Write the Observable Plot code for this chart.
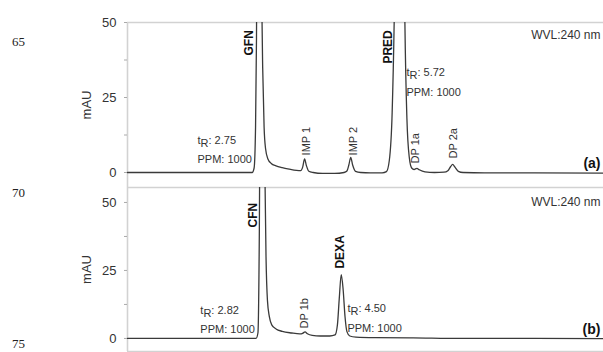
<!DOCTYPE html>
<html>
<head>
<meta charset="utf-8">
<script src="https://cdn.jsdelivr.net/npm/d3@7"></script>
<script src="https://cdn.jsdelivr.net/npm/@observablehq/plot@0.6"></script>
<style>
  html, body { margin: 0; padding: 0; background: #fff; }
  #wrap { position: relative; width: 603px; height: 352px; overflow: hidden; background: #fff; }
  #wrap svg { position: absolute; left: 0; }
  .ln { position: absolute; left: 12px; font-family: "Liberation Serif", "Times New Roman", serif; font-size: 13px; color: #222; line-height: 1; }
</style>
</head>
<body>
<div id="wrap">
  <span class="ln" style="top:35px">65</span>
  <span class="ln" style="top:186px">70</span>
  <span class="ln" style="top:337px">75</span>
</div>
<script>
// ---------- data ----------
const yTicks = [0, 25, 50];
const yMinorTicks = [12.5, 37.5];

// Panel (a): retention time (min) and absorbance (mAU)
const timeA = [0, 1.0, 2.0, 2.62, 2.66, 2.69, 2.71, 2.73, 2.75, 2.78, 2.81, 2.84, 2.87, 2.90, 2.95, 3.02, 3.12, 3.25, 3.40, 3.55, 3.64, 3.68, 3.72, 3.76, 3.81, 3.90, 4.10, 4.35, 4.55, 4.61, 4.65, 4.69, 4.73, 4.79, 4.90, 5.10, 5.35, 5.44, 5.50, 5.56, 5.62, 5.67, 5.72, 5.77, 5.82, 5.87, 5.92, 5.97, 6.02, 6.08, 6.13, 6.25, 6.45, 6.65, 6.73, 6.79, 6.83, 6.88, 6.95, 7.05, 7.5, 8.5, 10];
const signalA = [0, 0, 0, 0, 1.5, 15, 45, 120, 220, 140, 70, 35, 15, 8, 4.5, 3, 2.2, 1.6, 1.1, 0.7, 0.6, 1.8, 4.5, 2.2, 0.4, 0, -0.3, -0.3, 0, 0.5, 2.5, 5.0, 2.5, 0.4, 0, -0.1, -0.1, 0.3, 4, 20, 70, 160, 240, 170, 60, 18, 5, 1.5, 1.0, 1.4, 0.9, 0.2, 0, 0.1, 0.6, 2.0, 2.7, 1.8, 0.4, 0, -0.1, -0.1, -0.2];

// Panel (b)
const timeB = [0, 2.0, 2.70, 2.74, 2.77, 2.80, 2.82, 2.85, 2.88, 2.91, 2.94, 2.98, 3.03, 3.12, 3.25, 3.45, 3.62, 3.68, 3.73, 3.78, 3.88, 4.05, 4.25, 4.36, 4.41, 4.45, 4.49, 4.53, 4.57, 4.61, 4.67, 4.80, 5.2, 6.0, 7.0, 8.5, 10];
const signalB = [0, 0, 0, 2, 40, 140, 230, 150, 70, 30, 14, 8, 5, 3.5, 2.6, 2.0, 1.7, 1.9, 2.4, 1.7, 1.1, 0.9, 0.9, 1.3, 5, 15, 23.5, 18, 8, 2.5, 0.9, 0.5, 0.3, 0.2, 0, 0, -0.1];

// Peak labels (a)
const mainNamesA = ["GFN", "PRED"];
const mainTimeA = [2.56, 5.48];
const mainLevelA = [39, 36.3];
const minorNamesA = ["IMP 1", "IMP 2", "DP 1a", "DP 2a"];
const minorTimeA = [3.76, 4.75, 6.05, 6.85];
const minorLevelA = [5.7, 5.7, 3.0, 4.7];
const infoTextA = ["tR: 2.75", "PPM: 1000", "tR: 5.72", "PPM: 1000"];
const infoTimeA = [1.47, 1.47, 5.86, 5.86];
const infoLevelA = [10.7, 4.5, 33.3, 26.7];

// Peak labels (b)
const mainNamesB = ["CFN", "DEXA"];
const mainTimeB = [2.65, 4.47];
const mainLevelB = [40.8, 25.7];
const minorNamesB = ["DP 1b"];
const minorTimeB = [3.72];
const minorLevelB = [3.7];
const infoTextB = ["tR: 2.82", "PPM: 1000", "tR: 4.50", "PPM: 1000"];
const infoTimeB = [1.53, 1.53, 4.62, 4.62];
const infoLevelB = [10.3, 3.3, 11.0, 3.7];

const wavelength = "WVL:240 nm";
const panelTags = ["(a)", "(b)"];

// ---------- helpers ----------
const zip = (xs, ys, k) => xs.map((x, i) => ({t: x, v: ys[i], label: k ? k[i] : null}));
const FONT = "'Liberation Sans', Arial, Helvetica, sans-serif";
const frameColor = "#d2d2d2";

function panel({series, yDomain, height, marginTop, marginBottom, mains, minors, infos, wvlLevel, tag, tagLevel, topRule, bottomRule}) {
  const marks = [
    Plot.ruleY([topRule], {stroke: frameColor, strokeWidth: 1.6}),
    Plot.ruleX([0], {stroke: frameColor, strokeWidth: 1.6}),
    Plot.axisY({ticks: yMinorTicks, tickSize: 3, tickFormat: () => "", label: null, stroke: "#aaa"}),
    Plot.axisY({ticks: yTicks, tickSize: 3, tickPadding: 8, stroke: "#aaa", fill: "#333", fontSize: 13,
      label: "mAU", labelAnchor: "center", labelArrow: "none", labelOffset: 46}),
    Plot.line(series, {x: "t", y: "v", curve: "monotone-x", stroke: "#3a3a3a", strokeWidth: 1.3, clip: true}),
    Plot.text(mains, {x: "t", y: "v", text: "label", rotate: -90, textAnchor: "start", lineAnchor: "middle", fontWeight: "bold", fontSize: 12, fill: "#111"}),
    Plot.text(minors, {x: "t", y: "v", text: "label", rotate: -90, textAnchor: "start", lineAnchor: "middle", fontSize: 11, fill: "#333"}),
    Plot.text(infos, {x: "t", y: "v", text: "label", textAnchor: "start", lineAnchor: "middle", fontSize: 11, fill: "#333"}),
    Plot.text([wavelength], {x: 10, y: wvlLevel, text: d => d, textAnchor: "end", lineAnchor: "middle", dx: -3, fontSize: 12, fill: "#333"}),
    Plot.text([tag], {x: 10, y: tagLevel, text: d => d, textAnchor: "end", lineAnchor: "middle", dx: -3, fontSize: 14, fontWeight: "bold", fill: "#111"})
  ];
  if (bottomRule != null) marks.splice(1, 0, Plot.ruleY([bottomRule], {stroke: frameColor, strokeWidth: 1.6}));
  const svg = Plot.plot({
    width: 603, height, marginLeft: 127, marginRight: 0, marginTop, marginBottom,
    x: {domain: [0, 10], axis: null},
    y: {domain: yDomain, axis: null},
    style: {fontFamily: FONT, fontSize: "11px", color: "#333", background: "transparent", overflow: "visible"},
    marks
  });
  // subscript R in tR
  svg.querySelectorAll("text").forEach(el => {
    const s = el.textContent;
    if (s.startsWith("tR:")) {
      el.textContent = "";
      const ns = "http://www.w3.org/2000/svg";
      const a = document.createElementNS(ns, "tspan"); a.textContent = "t";
      const b = document.createElementNS(ns, "tspan"); b.textContent = "R"; b.setAttribute("dy", "3"); b.setAttribute("font-size", "11");
      const c = document.createElementNS(ns, "tspan"); c.textContent = s.slice(2); c.setAttribute("dy", "-3");
      el.append(a, b, c);
    }
  });
  return svg;
}

const wrap = document.getElementById("wrap");

const svgA = panel({
  series: zip(timeA, signalA),
  yDomain: [-5, 50], height: 187, marginTop: 22, marginBottom: 0,
  mains: zip(mainTimeA, mainLevelA, mainNamesA),
  minors: zip(minorTimeA, minorLevelA, minorNamesA),
  infos: zip(infoTimeA, infoLevelA, infoTextA),
  wvlLevel: 45.7, tag: panelTags[0], tagLevel: 3.0, topRule: 50, bottomRule: null
});
svgA.style.top = "0px";
wrap.appendChild(svgA);

const svgB = panel({
  series: zip(timeB, signalB),
  yDomain: [-4.8, 55.5], height: 166, marginTop: 1, marginBottom: 1,
  mains: zip(mainTimeB, mainLevelB, mainNamesB),
  minors: zip(minorTimeB, minorLevelB, minorNamesB),
  infos: zip(infoTimeB, infoLevelB, infoTextB),
  wvlLevel: 50, tag: panelTags[1], tagLevel: 3.3, topRule: 55.5, bottomRule: -4.8
});
svgB.style.top = "186px";
wrap.appendChild(svgB);
</script>
</body>
</html>
